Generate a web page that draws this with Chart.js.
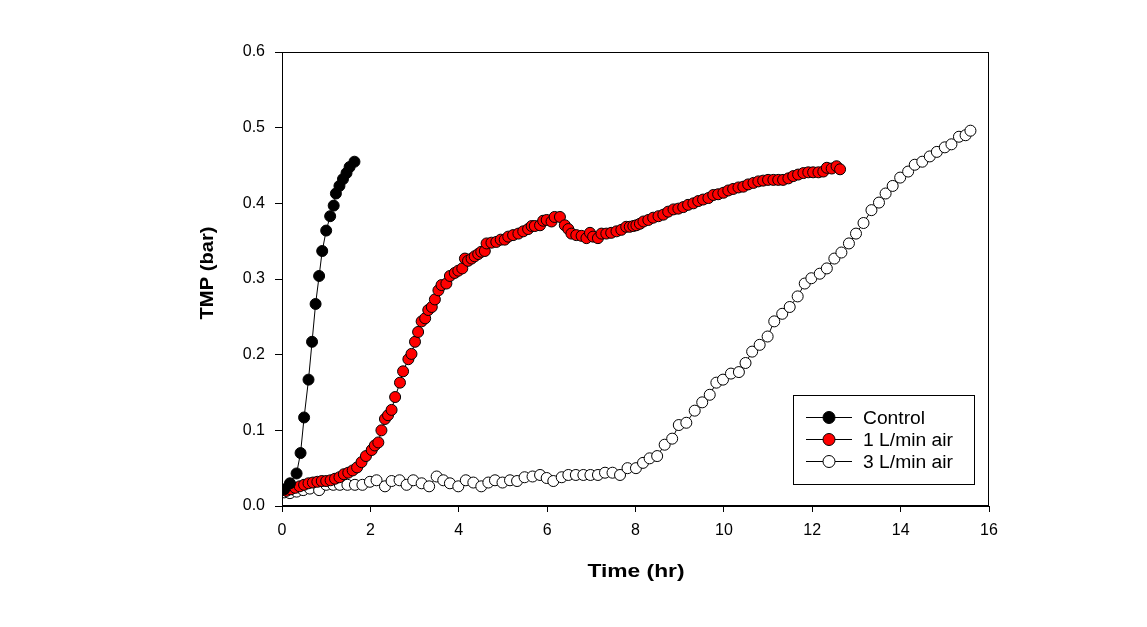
<!DOCTYPE html>
<html>
<head>
<meta charset="utf-8">
<title>TMP vs time</title>
<script src="https://cdn.jsdelivr.net/npm/chart.js@4/dist/chart.umd.min.js"></script>
<style>
    html, body { margin: 0; padding: 0; background: #fff; }
    #tmp-chart { display: block; }
</style>
</head>
<body>
<canvas id="tmp-chart" width="1147" height="627"></canvas>
<script>
// Control run
const controlTime = [0.05, 0.18, 0.33, 0.42, 0.5, 0.6, 0.68, 0.76, 0.84, 0.91, 1.0, 1.09, 1.17, 1.22, 1.3, 1.38, 1.46, 1.53, 1.64];
const controlTMP  = [0.022, 0.03, 0.043, 0.070, 0.117, 0.167, 0.217, 0.267, 0.304, 0.337, 0.364, 0.383, 0.397, 0.413, 0.423, 0.432, 0.440, 0.448, 0.455];

// 1 L/min air
const air1Time = [0.1, 0.2, 0.3, 0.4, 0.5, 0.6, 0.7, 0.8, 0.9, 1.0, 1.1, 1.2, 1.3, 1.4, 1.5, 1.6, 1.7, 1.8, 1.9,
    2.03, 2.1, 2.18, 2.25, 2.33, 2.4, 2.48, 2.56, 2.67, 2.74, 2.86, 2.93, 3.01, 3.08, 3.16, 3.24, 3.31, 3.39, 3.46,
    3.54, 3.61, 3.72, 3.8, 3.91, 3.99, 4.08, 4.14, 4.21, 4.29, 4.36, 4.44, 4.51, 4.59, 4.63, 4.74, 4.85, 4.95, 5.04,
    5.12, 5.23, 5.35, 5.46, 5.57, 5.65, 5.72, 5.84, 5.91, 5.99, 6.1, 6.17, 6.29, 6.4, 6.48, 6.55, 6.66, 6.78, 6.89,
    6.97, 7.04, 7.15, 7.23, 7.34, 7.45, 7.57, 7.68, 7.79, 7.87, 7.95, 8.02, 8.1, 8.18, 8.29, 8.4, 8.52, 8.63, 8.74,
    8.86, 8.97, 9.08, 9.19, 9.31, 9.42, 9.53, 9.65, 9.76, 9.87, 9.99, 10.1, 10.21, 10.33, 10.44, 10.55, 10.67, 10.78,
    10.89, 11.0, 11.12, 11.23, 11.34, 11.46, 11.57, 11.68, 11.8, 11.91, 12.02, 12.14, 12.25, 12.33, 12.44, 12.55, 12.63];
const air1TMP = [0.02, 0.022, 0.024, 0.026, 0.028, 0.03, 0.031, 0.032, 0.033, 0.033, 0.034, 0.036, 0.038, 0.042, 0.044, 0.047, 0.051, 0.058, 0.066,
    0.074, 0.08, 0.084, 0.1, 0.115, 0.12, 0.127, 0.144, 0.163, 0.178, 0.194, 0.201, 0.217, 0.23, 0.244, 0.248, 0.259, 0.263, 0.273,
    0.285, 0.292, 0.294, 0.304, 0.308, 0.311, 0.314, 0.327, 0.324, 0.327, 0.33, 0.333, 0.336, 0.337, 0.347, 0.348, 0.349, 0.352, 0.352,
    0.356, 0.358, 0.36, 0.363, 0.366, 0.37, 0.37, 0.371, 0.377, 0.378, 0.376, 0.382, 0.382, 0.371, 0.366, 0.36, 0.358, 0.357, 0.354,
    0.361, 0.356, 0.354, 0.36, 0.36, 0.361, 0.363, 0.365, 0.369, 0.369, 0.37, 0.371, 0.373, 0.376, 0.378, 0.381, 0.383, 0.385, 0.389,
    0.392, 0.393, 0.395, 0.398, 0.4, 0.403, 0.405, 0.407, 0.411, 0.412, 0.414, 0.417, 0.419, 0.421, 0.422, 0.425, 0.427, 0.429,
    0.43, 0.431, 0.431, 0.431, 0.431, 0.433, 0.436, 0.438, 0.44, 0.441, 0.441, 0.441, 0.442, 0.447, 0.446, 0.449, 0.445];

// 3 L/min air
const air3Time = [0.05, 0.18, 0.33, 0.48, 0.63, 0.84, 1.0, 1.16, 1.31, 1.48, 1.65, 1.82, 1.99, 2.14, 2.33, 2.48, 2.66, 2.82,
    2.97, 3.16, 3.33, 3.5, 3.65, 3.8, 3.99, 4.16, 4.33, 4.51, 4.67, 4.82, 4.99, 5.16, 5.32, 5.49, 5.67, 5.84, 5.99, 6.14,
    6.33, 6.48, 6.65, 6.82, 6.98, 7.15, 7.31, 7.48, 7.65, 7.82, 8.01, 8.17, 8.32, 8.49, 8.66, 8.83, 8.98, 9.15, 9.34,
    9.51, 9.68, 9.83, 9.98, 10.16, 10.34, 10.49, 10.64, 10.81, 10.99, 11.14, 11.32, 11.49, 11.67, 11.83, 11.98, 12.17,
    12.33, 12.5, 12.66, 12.83, 12.99, 13.16, 13.34, 13.51, 13.66, 13.82, 13.99, 14.17, 14.32, 14.49, 14.66, 14.82, 15.0,
    15.15, 15.32, 15.47, 15.58];
const air3TMP = [0.018, 0.017, 0.019, 0.021, 0.023, 0.021, 0.028, 0.028, 0.028, 0.028, 0.028, 0.028, 0.032, 0.034, 0.026, 0.033, 0.034, 0.028,
    0.034, 0.03, 0.026, 0.039, 0.034, 0.03, 0.026, 0.034, 0.031, 0.026, 0.031, 0.034, 0.031, 0.034, 0.033, 0.038, 0.039, 0.041, 0.037, 0.033,
    0.038, 0.041, 0.041, 0.041, 0.041, 0.041, 0.044, 0.044, 0.041, 0.05, 0.05, 0.057, 0.063, 0.066, 0.081, 0.089, 0.107, 0.11, 0.126,
    0.137, 0.147, 0.163, 0.167, 0.175, 0.177, 0.189, 0.204, 0.213, 0.224, 0.244, 0.254, 0.263, 0.277, 0.294, 0.301, 0.307,
    0.314, 0.327, 0.335, 0.347, 0.36, 0.374, 0.391, 0.401, 0.413, 0.423, 0.434, 0.442, 0.451, 0.455, 0.462, 0.468, 0.474,
    0.478, 0.488, 0.49, 0.496];

const seriesLabels = ['Control', '1 L/min air', '3 L/min air'];
const seriesFills = ['#000000', '#ff0000', '#ffffff'];

const FONT = "'Liberation Sans', Arial, sans-serif";

function toPoints(xs, ys) {
    return xs.map((x, i) => ({ x: x, y: ys[i] }));
}

function makeDataset(label, fill, xs, ys) {
    return {
        label: label,
        data: toPoints(xs, ys),
        showLine: true,
        borderColor: '#000',
        borderWidth: 1,
        pointRadius: 5.5,
        pointBorderWidth: 1,
        pointBackgroundColor: fill,
        pointBorderColor: '#000',
        pointHoverRadius: 5.5
    };
}

// draw text stretched along its own direction
function drawText(ctx, text, x, y, font, sx, align) {
    ctx.save();
    ctx.font = font;
    ctx.fillStyle = '#000';
    ctx.textBaseline = 'alphabetic';
    ctx.translate(x, y);
    ctx.scale(sx, 1);
    const w = ctx.measureText(text).width;
    const ox = align === 'center' ? -w / 2 : 0;
    ctx.fillText(text, ox, 0);
    ctx.restore();
}

const framePlugin = {
    id: 'frame',
    afterDatasetsDraw(chart) {
        const ctx = chart.ctx;
        const a = chart.chartArea;
        ctx.save();
        ctx.strokeStyle = '#000';
        ctx.lineWidth = 1;
        ctx.strokeRect(Math.round(a.left) + 0.5, Math.round(a.top) + 0.5,
            Math.round(a.right - a.left) - 1, Math.round(a.bottom - a.top) - 1);
        ctx.restore();
    }
};

const titlesPlugin = {
    id: 'axisTitles',
    afterDraw(chart) {
        const ctx = chart.ctx;
        drawText(ctx, 'Time (hr)', 636, 577, "bold 19px " + FONT, 1.2, 'center');
        ctx.save();
        ctx.translate(213, 273);
        ctx.rotate(-Math.PI / 2);
        drawText(ctx, 'TMP (bar)', 0, 0, "bold 19px " + FONT, 1.06, 'center');
        ctx.restore();
    }
};

const legendPlugin = {
    id: 'boxLegend',
    afterDraw(chart) {
        const ctx = chart.ctx;
        ctx.save();
        ctx.strokeStyle = '#000';
        ctx.lineWidth = 1;
        ctx.strokeRect(793.5, 395.5, 181, 89);
        const rows = [417, 439, 461];
        rows.forEach((y, i) => {
            ctx.beginPath();
            ctx.moveTo(806, y + 0.5);
            ctx.lineTo(852, y + 0.5);
            ctx.stroke();
            ctx.beginPath();
            ctx.arc(829, y + 0.5, 6, 0, Math.PI * 2);
            ctx.fillStyle = seriesFills[i];
            ctx.fill();
            ctx.stroke();
            drawText(ctx, seriesLabels[i], 863, y + 6.5, "18px " + FONT, 1.07, 'left');
        });
        ctx.restore();
    }
};

document.addEventListener('DOMContentLoaded', function() {
    const canvas = document.getElementById('tmp-chart');

    new Chart(canvas, {
        type: 'scatter',
        data: {
            datasets: [
                makeDataset(seriesLabels[0], seriesFills[0], controlTime, controlTMP),
                makeDataset(seriesLabels[1], seriesFills[1], air1Time, air1TMP),
                makeDataset(seriesLabels[2], seriesFills[2], air3Time, air3TMP)
            ]
        },
        options: {
            responsive: false,
            animation: false,
            events: [],
            layout: { padding: { left: 0, right: 158, top: 52, bottom: 0 } },
            plugins: {
                legend: { display: false },
                tooltip: { enabled: false }
            },
            scales: {
                x: {
                    type: 'linear',
                    min: 0,
                    max: 16,
                    afterFit(scale) { scale.height = 121; },
                    ticks: {
                        stepSize: 2,
                        color: '#000',
                        padding: 9,
                        maxRotation: 0,
                        font: { family: FONT, size: 16 }
                    },
                    grid: { display: true, drawOnChartArea: false, drawTicks: true, tickLength: 6, color: '#000' },
                    border: { display: true, color: '#000', width: 1 }
                },
                y: {
                    type: 'linear',
                    min: 0,
                    max: 0.6,
                    afterFit(scale) { scale.width = 282; },
                    ticks: {
                        stepSize: 0.1,
                        color: '#000',
                        padding: 10,
                        font: { family: FONT, size: 16 },
                        callback: v => v.toFixed(1)
                    },
                    grid: { display: true, drawOnChartArea: false, drawTicks: true, tickLength: 7, color: '#000' },
                    border: { display: true, color: '#000', width: 1 }
                }
            }
        },
        plugins: [framePlugin, titlesPlugin, legendPlugin]
    });
});
</script>
</body>
</html>
